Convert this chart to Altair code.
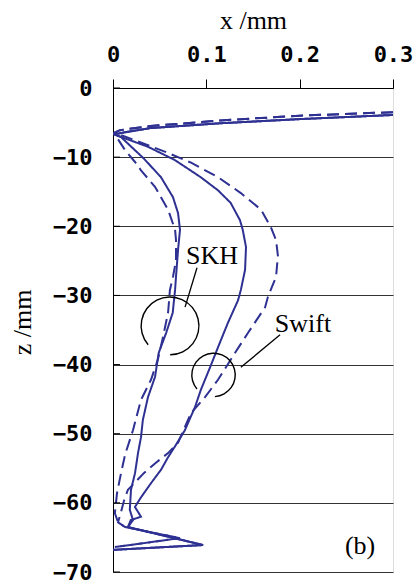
import altair as alt
import pandas as pd

# ---- data ----
top_solid_x = [0.300, 0.200, 0.115, 0.040, 0.013, 0.001]
top_solid_z = [-3.9, -4.5, -5.1, -5.8, -6.4, -6.7]
top_dash_x = [0.300, 0.200, 0.115, 0.040, 0.0075, 0.001]
top_dash_z = [-3.5, -4.0, -4.7, -5.5, -6.1, -6.5]

swift_solid_x = [0.0375, 0.066, 0.094, 0.1125, 0.126, 0.136, 0.139, 0.1425, 0.1415, 0.137,
                 0.134, 0.123, 0.1125, 0.104, 0.094, 0.088, 0.077, 0.0675, 0.059, 0.0515,
                 0.041, 0.030, 0.0235, 0.030, 0.019, 0.016, 0.0965, 0.0]
swift_solid_z = [-8.5, -10.4, -12.9, -14.8, -16.6, -19.1, -20.5, -23.0, -26.3, -29.2,
                 -30.7, -34.0, -37.5, -40.4, -43.7, -46.1, -49.5, -51.6, -53.4, -55.2,
                 -57.1, -59.2, -60.6, -62.0, -62.5, -63.5, -66.1, -66.8]

swift_dash_x = [0.0125, 0.0554, 0.0836, 0.1125, 0.137, 0.1586, 0.169, 0.1747, 0.1768, 0.1758,
                0.1747, 0.166, 0.163, 0.1447, 0.1308, 0.1125, 0.0986, 0.0836, 0.0697, 0.059,
                0.046, 0.033, 0.024, 0.016, 0.012, 0.0086, 0.0054, 0.013, 0.0718, 0.002]
swift_dash_z = [-7.0, -9.2, -10.8, -12.9, -15.2, -17.6, -20.1, -22.0, -24.4, -25.6,
                -27.3, -30.2, -31.7, -35.4, -38.3, -42.2, -44.7, -47.0, -51.3, -52.8,
                -54.2, -55.7, -57.0, -58.1, -59.6, -61.3, -62.8, -63.5, -65.1, -66.4]

skh_solid_x = [0.0086, 0.033, 0.0514, 0.0643, 0.0697, 0.0718, 0.0697, 0.0675, 0.0665, 0.064,
               0.057, 0.049, 0.045, 0.0375, 0.032, 0.030, 0.0268, 0.0236, 0.0193, 0.018,
               0.0214, 0.016, 0.0965, 0.0]
skh_solid_z = [-7.1, -10.2, -12.9, -15.8, -18.1, -20.5, -23.4, -27.3, -29.2, -32.5,
               -35.4, -38.3, -41.8, -44.7, -48.0, -50.5, -52.8, -55.7, -58.1, -61.0,
               -62.5, -63.5, -66.1, -66.8]

skh_dash_x = [0.013, 0.0236, 0.030, 0.045, 0.059, 0.0665, 0.0675, 0.0675, 0.0643, 0.061,
              0.059, 0.0536, 0.048, 0.0407, 0.030, 0.0214, 0.013, 0.0086, 0.0043, 0.002,
              0.0054, 0.013, 0.0718, 0.002]
skh_dash_z = [-9.0, -10.7, -11.9, -14.3, -17.6, -20.5, -22.0, -24.9, -27.3, -29.2,
              -32.5, -36.0, -39.3, -42.2, -45.1, -49.5, -53.0, -55.7, -58.6, -61.5,
              -62.8, -63.5, -65.1, -66.4]

label_text = ["SKH", "Swift", "(b)"]
label_x = [0.106, 0.2036, 0.2647]
label_z = [-25.5, -35.3, -67.4]

ring_x = [0.0611, 0.1077]
ring_z = [-34.4, -41.5]

leader_x = [0.090, 0.137]
leader_z = [-26.0, -40.4]
leader_x2 = [0.0772, 0.179]
leader_z2 = [-31.7, -35.7]

x_ticks = [0, 0.1, 0.2, 0.3]
z_ticks = [0, -10, -20, -30, -40, -50, -60, -70]

# ---- tables ----
rows = []
def add(name, style, xs, zs):
    for i, (a, b) in enumerate(zip(xs, zs)):
        rows.append({"series": name, "style": style, "i": i, "x": a, "z": b})

add("Swift solid", "solid", top_solid_x + swift_solid_x, top_solid_z + swift_solid_z)
add("Swift dashed", "dashed", top_dash_x + swift_dash_x, top_dash_z + swift_dash_z)
add("SKH solid", "solid", top_solid_x + skh_solid_x, top_solid_z + skh_solid_z)
add("SKH dashed", "dashed", top_dash_x + skh_dash_x, top_dash_z + skh_dash_z)
lines_df = pd.DataFrame(rows)

labels_df = pd.DataFrame({"t": label_text, "x": label_x, "z": label_z})
leader_df = pd.DataFrame({"x": leader_x, "z": leader_z, "x2": leader_x2, "z2": leader_z2})
ytick_df = pd.DataFrame({"z": z_ticks, "x": [0.0] * len(z_ticks), "x2": [0.0075] * len(z_ticks)})

BLUE = "#2E3192"
LABEL_FONT = "DejaVu Sans Mono"
SERIF = "Liberation Serif"

xscale = alt.Scale(domain=[0, 0.3], nice=False, zero=False)
yscale = alt.Scale(domain=[-70, 0], nice=False)

xaxis = alt.Axis(orient="top", values=x_ticks, format=".1~f", grid=False,
                 title="x /mm", titleFont=SERIF, titleFontSize=26, titleFontWeight="normal",
                 titleColor="black", titleX=140, titleY=-60, titleBaseline="alphabetic",
                 labelFont=LABEL_FONT, labelFontSize=22, labelFontWeight="bold", labelColor="black",
                 labelBaseline="alphabetic", labelPadding=18, tickSize=9, tickColor="black",
                 domainColor="black", labelFlush=False)
yaxis = alt.Axis(values=z_ticks, format="d", grid=True, gridColor="#333333", gridWidth=1,
                 ticks=False, tickSize=0, title="z /mm", titleFont=SERIF, titleFontSize=26,
                 titleFontWeight="normal", titleColor="black", titleX=-91, titleY=234,
                 titleAlign="center", titleBaseline="middle",
                 labelFont=LABEL_FONT, labelFontSize=22, labelFontWeight="bold", labelColor="black",
                 labelPadding=21, domainColor="black", labelFlush=False)

lines = alt.Chart(lines_df).mark_line(strokeWidth=2, color=BLUE, clip=True).encode(
    x=alt.X("x:Q", scale=xscale, axis=xaxis),
    y=alt.Y("z:Q", scale=yscale, axis=yaxis),
    detail="series:N",
    order="i:Q",
    strokeDash=alt.StrokeDash("style:N", scale=alt.Scale(domain=["solid", "dashed"],
                                                          range=[[1, 0], [12, 6]]), legend=None),
)

yticks = alt.Chart(ytick_df).mark_rule(color="black", strokeWidth=1).encode(
    x=alt.X("x:Q", scale=xscale), x2="x2:Q", y=alt.Y("z:Q", scale=yscale))

texts = alt.Chart(labels_df).mark_text(font=SERIF, fontSize=26, align="center",
                                       baseline="alphabetic", color="black").encode(
    x=alt.X("x:Q", scale=xscale), y=alt.Y("z:Q", scale=yscale), text="t:N")

leaders = alt.Chart(leader_df).mark_rule(color="black", strokeWidth=1.3).encode(
    x=alt.X("x:Q", scale=xscale), y=alt.Y("z:Q", scale=yscale), x2="x2:Q", y2="z2:Q")

ring1 = alt.Chart(pd.DataFrame({"x": ring_x[:1], "z": ring_z[:1]})).mark_arc(
    radius=29.6, radius2=28.2, theta=4.0, theta2=9.42, color="black").encode(
    x=alt.X("x:Q", scale=xscale), y=alt.Y("z:Q", scale=yscale))
ring2 = alt.Chart(pd.DataFrame({"x": ring_x[1:], "z": ring_z[1:]})).mark_arc(
    radius=22.4, radius2=21.0, theta=4.01, theta2=9.36, color="black").encode(
    x=alt.X("x:Q", scale=xscale), y=alt.Y("z:Q", scale=yscale))

chart = alt.layer(lines, yticks, leaders, ring1, ring2, texts).properties(
    width=280, height=484,
    padding={"left": 113, "top": 88, "right": 20, "bottom": 12},
    autosize=alt.AutoSizeParams(type="none"),
).configure_view(stroke="#888888", strokeWidth=1.5).configure(background="white")

chart.save("out.html", embed_options={"renderer": "svg", "actions": False})
